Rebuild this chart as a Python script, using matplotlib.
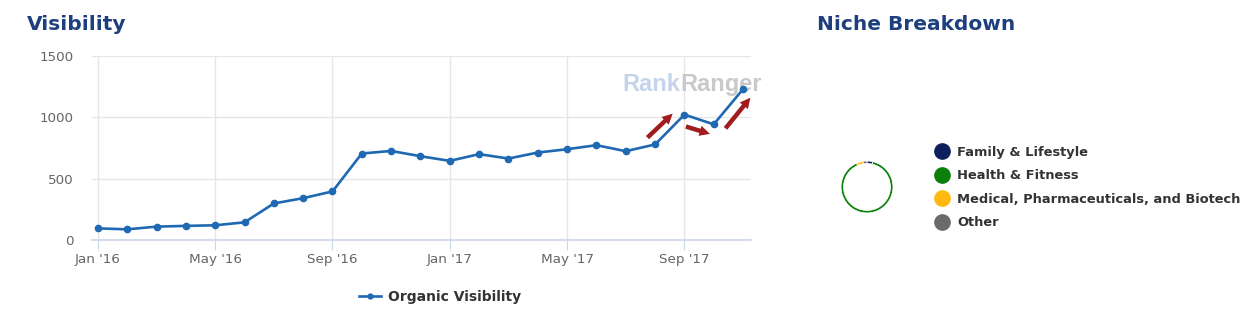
import matplotlib.pyplot as plt
from matplotlib.lines import Line2D

# monthly organic visibility, Jan 2016 - Nov 2017
months = ["Jan '16", "Feb '16", "Mar '16", "Apr '16", "May '16", "Jun '16",
          "Jul '16", "Aug '16", "Sep '16", "Oct '16", "Nov '16", "Dec '16",
          "Jan '17", "Feb '17", "Mar '17", "Apr '17", "May '17", "Jun '17",
          "Jul '17", "Aug '17", "Sep '17", "Oct '17", "Nov '17"]
visibility = [95, 87, 109, 115, 120, 144, 298, 341, 396, 705, 726, 683,
              645, 700, 664, 713, 740, 773, 724, 779, 1022, 943, 1230]
tick_months = ["Jan '16", "May '16", "Sep '16", "Jan '17", "May '17", "Sep '17"]
y_ticks = [0, 500, 1000, 1500]

# niche share (pie, clockwise from top)
niches = ["Family & Lifestyle", "Health & Fitness",
          "Medical, Pharmaceuticals, and Biotech", "Other"]
niche_share = [3.5, 90, 4, 2.5]
niche_colors = ["#0d1f5c", "#0a7f0a", "#ffb90f", "#6b6b6b"]

W, H = 1259, 328
fig = plt.figure(figsize=(W / 100, H / 100), dpi=100)
title_color = "#1d3f7e"
line_color = "#1f69b3"

ax = fig.add_axes([92 / W, (H - 240) / H, (751 - 92) / W, 184 / H])
x = list(range(len(months)))
ax.plot(x, visibility, color=line_color, lw=1.9, marker="o", ms=4.5,
        zorder=3, clip_on=False)
ax.set_xlim(-0.2, 22.27)
ax.set_ylim(0, 1500)
ax.set_xticks([months.index(m) for m in tick_months])
ax.set_xticklabels(tick_months)
ax.set_yticks(y_ticks)
ax.grid(True, color="#e6e6e6", lw=1)
ax.set_axisbelow(True)
for s in ["top", "right", "left"]:
    ax.spines[s].set_visible(False)
ax.spines["bottom"].set_color("#ccd6eb")
ax.spines["bottom"].set_linewidth(1.2)
ax.tick_params(axis="y", length=0, pad=13, labelsize=9.7, labelcolor="#666666")
ax.tick_params(axis="x", length=7, color="#ccd6eb", pad=2, labelsize=9.7,
               labelcolor="#666666")

# watermark
ax.text(0.805, 0.845, "Rank", transform=ax.transAxes, fontsize=17,
        fontweight="bold", family="Liberation Sans", color="#c3d4ec",
        ha="left", va="center", zorder=1)
ax.text(0.893, 0.845, "Ranger", transform=ax.transAxes, fontsize=17,
        fontweight="bold", family="Liberation Sans", color="#c9c9c9",
        ha="left", va="center", zorder=1)

# red arrows on the last months
arrow_red = "#a11c1f"
arrows = [((18.74, 835), (19.60, 1030)),
          ((20.05, 925), (20.87, 865)),
          ((21.40, 910), (22.25, 1160))]
for tail, head in arrows:
    ax.annotate("", xy=head, xytext=tail, annotation_clip=False,
                arrowprops=dict(arrowstyle="simple,head_length=0.75,head_width=0.75,tail_width=0.32",
                                color=arrow_red, lw=0, shrinkA=0, shrinkB=0))

fig.legend([Line2D([], [], color=line_color, lw=1.9, marker="o", ms=3.5)],
           ["Organic Visibility"], loc="center", bbox_to_anchor=(440 / W, (H - 297) / H),
           frameon=False, handlelength=1.6, handletextpad=0.5,
           prop=dict(size=10, weight="bold"), labelcolor="#333333")

fig.text(27 / W, (H - 24) / H, "Visibility", fontsize=14.5, fontweight="bold",
         color=title_color, family="DejaVu Sans", va="center", ha="left")
fig.text(817 / W, (H - 24) / H, "Niche Breakdown", fontsize=14.5, fontweight="bold",
         color=title_color, family="DejaVu Sans", va="center", ha="left")

# niche donut
pax = fig.add_axes([841 / W, (H - 213) / H, 52 / W, 52 / H])
pax.pie(niche_share, colors=niche_colors, startangle=90, counterclock=False,
        radius=1.0, wedgeprops=dict(width=0.1, edgecolor="white", linewidth=0.6))
pax.set_xlim(-1.0, 1.0)
pax.set_ylim(-1.0, 1.0)
pax.set_aspect("equal")

handles = [Line2D([], [], ls="", marker="o", ms=11, color=c) for c in niche_colors]
fig.legend(handles, niches, loc="upper left", bbox_to_anchor=(929 / W, (H - 146) / H),
           frameon=False, handletextpad=0.15, labelspacing=0.8, borderpad=0,
           borderaxespad=0, prop=dict(size=9.4, weight="bold"), labelcolor="#333333")

fig.savefig("out.png", dpi=100)
